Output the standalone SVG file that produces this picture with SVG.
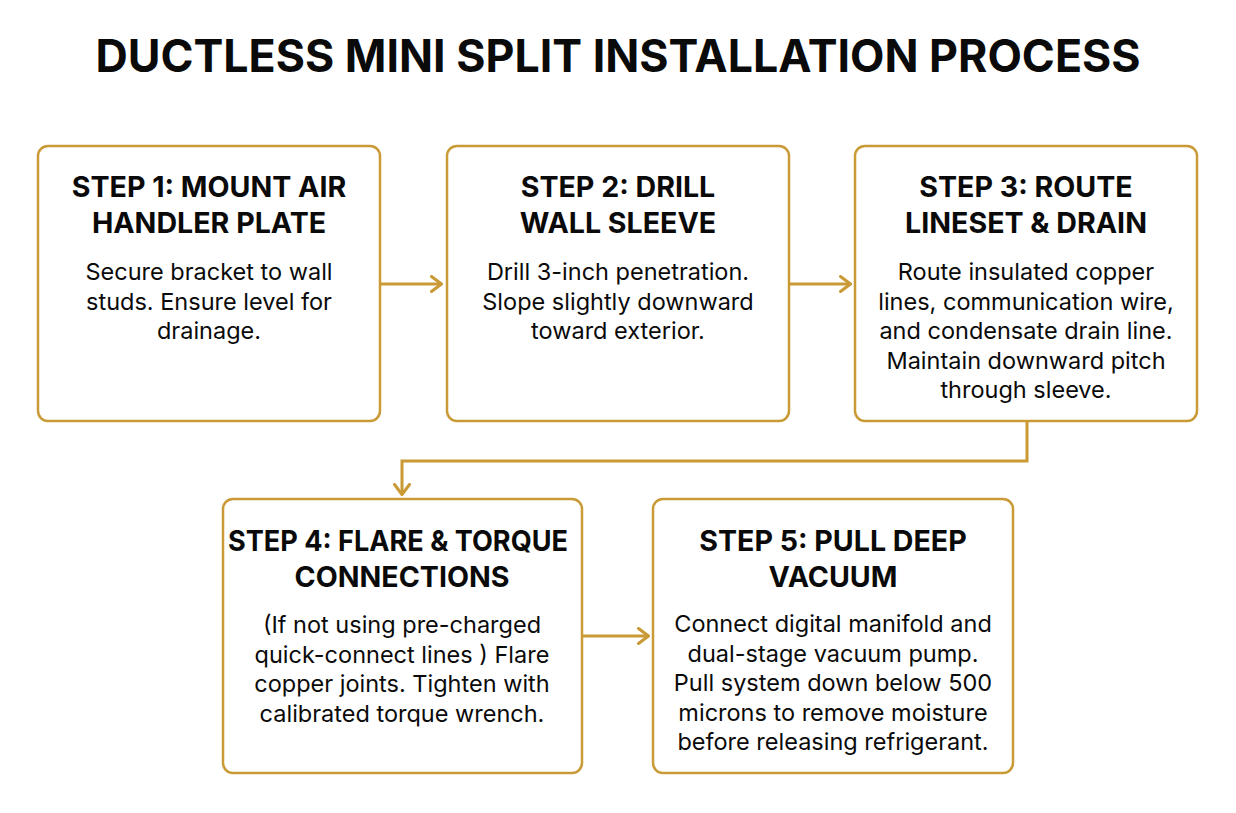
<svg xmlns="http://www.w3.org/2000/svg" width="1236" height="813" viewBox="0 0 1236 813">
<style>
.box{fill:#fff;stroke:#C99A35;stroke-width:2.5}
.title{font-family:Inter,"Liberation Sans",sans-serif;font-weight:700;font-size:44.7px;fill:#0a0a0a;text-anchor:middle}
.h{font-family:Inter,"Liberation Sans",sans-serif;font-weight:700;font-size:28.6px;fill:#0a0a0a;text-anchor:middle}
.b{font-family:Inter,"Liberation Sans",sans-serif;font-weight:400;font-size:23.5px;fill:#0a0a0a;text-anchor:middle}
.c{fill:none;stroke:#C99A35;stroke-width:3}
</style>
<defs>
<marker id="ah" viewBox="0 0 13 18" refX="12" refY="9" markerWidth="13" markerHeight="18" markerUnits="userSpaceOnUse" orient="auto">
<path d="M1.5,1.5 L11.5,9 L1.5,16.5" fill="none" stroke="#C99A35" stroke-width="3" stroke-linecap="round" stroke-linejoin="round"/>
</marker>
</defs>
<rect width="1236" height="813" fill="#fff"/>
<text class="title" x="618" y="72">DUCTLESS MINI SPLIT INSTALLATION PROCESS</text>
<g id="connectors">
<path class="c" d="M381,284 L442,284" marker-end="url(#ah)"/>
<path class="c" d="M790,284 L851,284" marker-end="url(#ah)"/>
<path class="c" d="M1027,422 L1027,461 L402,461 L402,495" marker-end="url(#ah)"/>
<path class="c" d="M583,636 L649,636" marker-end="url(#ah)"/>
</g>
<g id="step1">
<rect class="box" x="38" y="146" width="342" height="275" rx="10"/>
<text class="h" x="209" y="197">STEP 1: MOUNT AIR</text>
<text class="h" x="209" y="233">HANDLER PLATE</text>
<text class="b" x="209" y="280">Secure bracket to wall</text>
<text class="b" x="209" y="309.5">studs. Ensure level for</text>
<text class="b" x="209" y="339">drainage.</text>
</g>
<g id="step2">
<rect class="box" x="447" y="146" width="342" height="275" rx="10"/>
<text class="h" x="618" y="197">STEP 2: DRILL</text>
<text class="h" x="618" y="233">WALL SLEEVE</text>
<text class="b" x="618" y="280">Drill 3-inch penetration.</text>
<text class="b" x="618" y="309.5">Slope slightly downward</text>
<text class="b" x="618" y="339">toward exterior.</text>
</g>
<g id="step3">
<rect class="box" x="855" y="146" width="342" height="275" rx="10"/>
<text class="h" x="1026" y="197">STEP 3: ROUTE</text>
<text class="h" x="1026" y="233">LINESET &amp; DRAIN</text>
<text class="b" x="1026" y="280">Route insulated copper</text>
<text class="b" x="1026" y="309.5">lines, communication wire,</text>
<text class="b" x="1026" y="339">and condensate drain line.</text>
<text class="b" x="1026" y="368.5">Maintain downward pitch</text>
<text class="b" x="1026" y="398">through sleeve.</text>
</g>
<g id="step4">
<rect class="box" x="223" y="499" width="359" height="274" rx="10"/>
<text class="h" x="398" y="551" textLength="340" lengthAdjust="spacingAndGlyphs">STEP 4: FLARE &amp; TORQUE</text>
<text class="h" x="402" y="587">CONNECTIONS</text>
<text class="b" x="402" y="633">(If not using pre-charged</text>
<text class="b" x="402" y="662.5">quick-connect lines ) Flare</text>
<text class="b" x="402" y="692">copper joints. Tighten with</text>
<text class="b" x="402" y="721.5">calibrated torque wrench.</text>
</g>
<g id="step5">
<rect class="box" x="653" y="499" width="360" height="274" rx="10"/>
<text class="h" x="833" y="551">STEP 5: PULL DEEP</text>
<text class="h" x="833" y="587">VACUUM</text>
<text class="b" x="833" y="632">Connect digital manifold and</text>
<text class="b" x="833" y="661.5">dual-stage vacuum pump.</text>
<text class="b" x="833" y="691">Pull system down below 500</text>
<text class="b" x="833" y="720.5">microns to remove moisture</text>
<text class="b" x="833" y="750">before releasing refrigerant.</text>
</g>
</svg>
